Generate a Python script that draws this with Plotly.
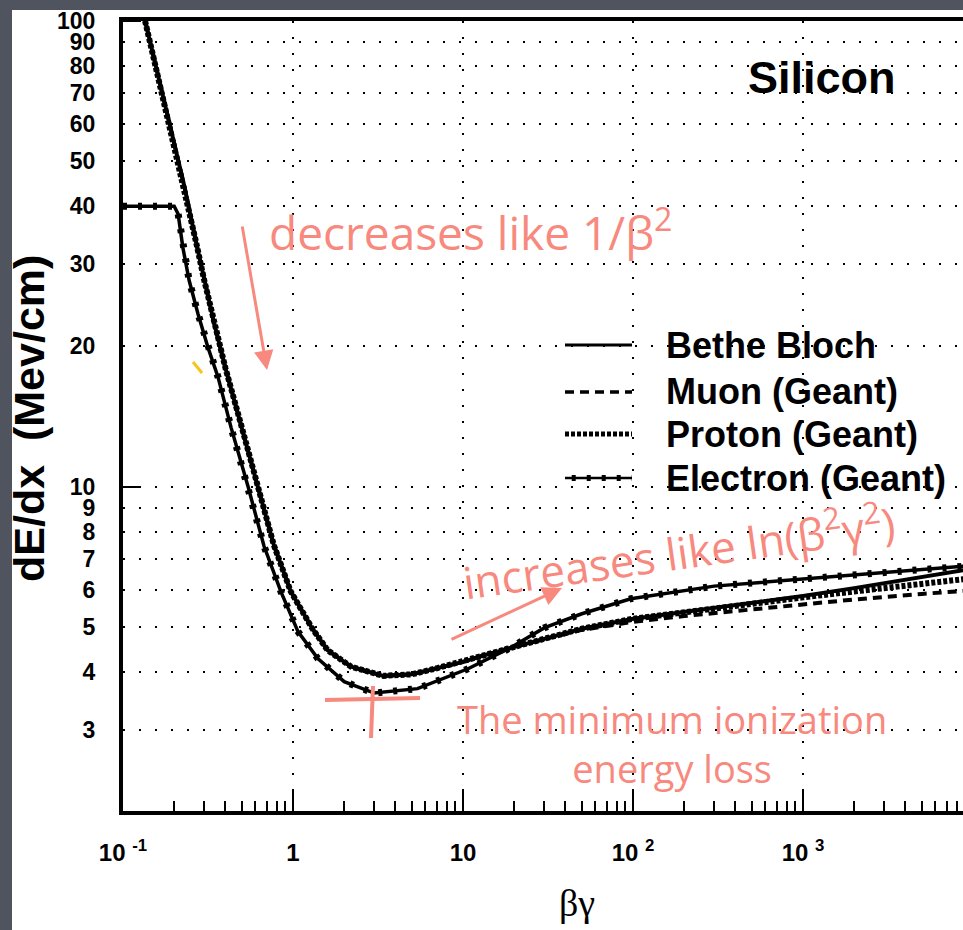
import plotly.graph_objects as go

# ---------------- data ----------------
bg_main = [0.130, 0.135, 0.15, 0.17, 0.20, 0.23, 0.27, 0.30, 0.34, 0.40, 0.50, 0.62,
           0.77, 0.97, 1.3, 1.6, 2.2, 3.4, 5.0, 7.0, 10, 13, 19, 30, 50, 100, 200,
           500, 1000, 2000, 5000, 9000]
bethe_bloch = [106, 100, 84, 69, 54, 44, 33.3, 27.8, 22.8, 18, 13.4, 10.0,
               7.5, 5.95, 4.95, 4.45, 4.1, 3.92, 3.95, 4.07, 4.2, 4.33, 4.5, 4.72, 4.95, 5.2, 5.38,
               5.62, 5.82, 6.05, 6.38, 6.62]
proton_geant = [106, 100, 84, 69, 54, 44, 33.3, 27.8, 22.8, 18, 13.4, 10.0,
                7.5, 5.95, 4.95, 4.45, 4.1, 3.92, 3.95, 4.07, 4.2, 4.33, 4.5, 4.72, 4.95, 5.2, 5.38,
                5.6, 5.78, 5.95, 6.18, 6.33]
muon_geant = [106, 100, 84, 69, 54, 44, 33.3, 27.8, 22.8, 18, 13.4, 10.0,
              7.5, 5.95, 4.95, 4.45, 4.1, 3.92, 3.95, 4.07, 4.2, 4.33, 4.5, 4.7, 4.92, 5.12, 5.27,
              5.45, 5.58, 5.72, 5.88, 5.97]

bg_electron = [0.10, 0.20, 0.211, 0.225, 0.245, 0.276, 0.316, 0.362, 0.432, 0.544, 0.675,
               0.85, 1.07, 1.4, 2.0, 3.0, 5.4, 10.7, 18.7, 30, 50, 97, 300, 713, 8850]
electron_geant = [40, 40, 38.5, 32.6, 27.7, 23.5, 19.9, 17.2, 13.4, 10.0, 7.45,
                  5.94, 4.88, 4.27, 3.81, 3.6, 3.68, 4.06, 4.49, 4.97, 5.33, 5.74, 6.11, 6.27, 6.74]

x_tickvals = [0.1, 1, 10, 100, 1000]
x_ticktext = ["10 <sup>-1</sup>", "1", "10", "10 <sup>2</sup>", "10 <sup>3</sup>"]
y_tickvals = [3, 4, 5, 6, 7, 8, 9, 10, 20, 30, 40, 50, 60, 70, 80, 90, 100]
y_ticktext = [str(v) for v in y_tickvals]

series_names = ["Bethe Bloch", "Muon (Geant)", "Proton (Geant)", "Electron (Geant)"]

# ---------------- figure ----------------
W, H = 963, 930
L, R, T, B = 123, 0, 21, 119
PW, PH = W - L - R, H - T - B


def px_x(p):
    return (p - L) / PW


def px_y(p):
    return (H - B - p) / PH


BLACK = "#000000"
PINK = "#F7897E"
FONT = "Liberation Sans"
HAND = "Open Sans"

fig = go.Figure()

fig.add_trace(go.Scatter(x=bg_electron, y=electron_geant, mode="lines",
                         line=dict(color=BLACK, width=3.5), name=series_names[3]))
fig.add_trace(go.Scatter(x=bg_electron, y=electron_geant, mode="lines",
                         line=dict(color=BLACK, width=7, dash="4px,11px"),
                         showlegend=False, hoverinfo="skip"))
fig.add_trace(go.Scatter(x=bg_main, y=muon_geant, mode="lines",
                         line=dict(color=BLACK, width=4, dash="9px,6px"), name=series_names[1]))
fig.add_trace(go.Scatter(x=bg_main, y=proton_geant, mode="lines",
                         line=dict(color=BLACK, width=6, dash="4px,2px"), name=series_names[2]))
fig.add_trace(go.Scatter(x=bg_main, y=bethe_bloch, mode="lines",
                         line=dict(color=BLACK, width=4), name=series_names[0]))

grid_dash = "2px,14px"
minor_x = [m * 10 ** d for d in range(-1, 4) for m in range(2, 10)]

fig.update_xaxes(
    type="log", range=[-1, -1 + PW / 170.0],
    tickmode="array", tickvals=x_tickvals, ticktext=x_ticktext,
    ticks="inside", ticklen=20, tickwidth=2, tickcolor=BLACK,
    tickfont=dict(family=FONT, size=24, color=BLACK, weight="bold"),
    ticklabelstandoff=17,
    showline=True, linewidth=4, linecolor=BLACK, mirror=True,
    showgrid=True, gridcolor=BLACK, gridwidth=2, griddash=grid_dash,
    minor=dict(tickmode="array", tickvals=minor_x, ticks="inside", ticklen=10,
               tickwidth=1.5, tickcolor=BLACK, showgrid=False),
    zeroline=False, automargin=False,
)
fig.update_yaxes(
    type="log", range=[0.303, 2.0],
    tickmode="array", tickvals=y_tickvals, ticktext=y_ticktext,
    ticks="", ticklabelstandoff=19,
    tickfont=dict(family=FONT, size=23, color=BLACK, weight="bold"),
    showline=True, linewidth=4, linecolor=BLACK, mirror=False,
    showgrid=True, gridcolor=BLACK, gridwidth=2, griddash=grid_dash,
    minor=dict(tickmode="array", tickvals=[10, 100], ticks="inside", ticklen=18,
               tickwidth=1.5, tickcolor=BLACK, showgrid=False),
    zeroline=False, automargin=False,
)

shapes = []
# white page area over the dark slide background
shapes.append(dict(type="rect", xref="paper", yref="paper", layer="below",
                   x0=px_x(12), x1=px_x(W + 5), y0=px_y(H + 5), y1=px_y(10),
                   fillcolor="white", line=dict(width=0)))

# legend samples
leg_x0, leg_x1 = px_x(565), px_x(632)
rows = [345, 392, 434, 478]
shapes.append(dict(type="line", xref="paper", yref="paper", x0=leg_x0, x1=leg_x1,
                   y0=px_y(rows[0]), y1=px_y(rows[0]), line=dict(color=BLACK, width=3)))
shapes.append(dict(type="line", xref="paper", yref="paper", x0=leg_x0, x1=leg_x1,
                   y0=px_y(rows[1]), y1=px_y(rows[1]), line=dict(color=BLACK, width=3.5, dash="9px,6px")))
shapes.append(dict(type="line", xref="paper", yref="paper", x0=leg_x0, x1=leg_x1,
                   y0=px_y(rows[2]), y1=px_y(rows[2]), line=dict(color=BLACK, width=5, dash="4px,2px")))
shapes.append(dict(type="line", xref="paper", yref="paper", x0=leg_x0, x1=leg_x1,
                   y0=px_y(rows[3]), y1=px_y(rows[3]), line=dict(color=BLACK, width=2.5)))
shapes.append(dict(type="line", xref="paper", yref="paper", x0=leg_x0 + 0.008, x1=leg_x1,
                   y0=px_y(rows[3]), y1=px_y(rows[3]), line=dict(color=BLACK, width=6, dash="4px,11px")))

# hand-drawn marks
shapes.append(dict(type="line", xref="paper", yref="paper", x0=px_x(325), x1=px_x(420),
                   y0=px_y(700), y1=px_y(698), line=dict(color=PINK, width=4)))
shapes.append(dict(type="line", xref="paper", yref="paper", x0=px_x(373), x1=px_x(371),
                   y0=px_y(686), y1=px_y(738), line=dict(color=PINK, width=4)))
shapes.append(dict(type="line", xref="paper", yref="paper", x0=px_x(193), x1=px_x(202),
                   y0=px_y(362), y1=px_y(373), line=dict(color="#F5C518", width=3)))

annotations = []
annotations.append(dict(text="Silicon", x=px_x(822), y=px_y(77), xref="paper", yref="paper",
                        showarrow=False, xanchor="center", yanchor="middle",
                        font=dict(family=FONT, size=45, color=BLACK, weight="bold")))
for name, r in zip(series_names, rows):
    annotations.append(dict(text=name, x=px_x(664), y=px_y(r), xref="paper", yref="paper",
                            showarrow=False, xanchor="left", yanchor="middle",
                            font=dict(family=FONT, size=36, color=BLACK, weight="bold")))
annotations.append(dict(text="dE/dx  (Mev/cm)", x=px_x(29), y=px_y(419), xref="paper", yref="paper",
                        showarrow=False, textangle=-90, xanchor="center", yanchor="middle",
                        font=dict(family=FONT, size=43, color=BLACK, weight="bold")))
annotations.append(dict(text="βγ", x=px_x(577), y=px_y(903), xref="paper", yref="paper",
                        showarrow=False, xanchor="center", yanchor="middle",
                        font=dict(family="Liberation Serif", size=38, color=BLACK)))

# handwritten notes
annotations.append(dict(text="decreases like 1/β<sup>2</sup>", x=px_x(470), y=px_y(230),
                        xref="paper", yref="paper", showarrow=False,
                        xanchor="center", yanchor="middle",
                        font=dict(family=HAND, size=46, color=PINK)))
annotations.append(dict(text="increases like ln(β<sup>2</sup>γ<sup>2</sup>)", x=px_x(678), y=px_y(550),
                        xref="paper", yref="paper", showarrow=False, textangle=-8,
                        xanchor="center", yanchor="middle",
                        font=dict(family=HAND, size=44, color=PINK)))
annotations.append(dict(text="The minimum ionization<br>energy loss", x=px_x(672), y=px_y(743),
                        xref="paper", yref="paper", showarrow=False, align="center",
                        xanchor="center", yanchor="middle",
                        font=dict(family=HAND, size=38, color=PINK)))
# arrows
annotations.append(dict(text="", x=px_x(267), y=px_y(370), xref="paper", yref="paper",
                        showarrow=True, ax=-25, ay=-145, arrowhead=2, arrowsize=1.3,
                        arrowwidth=3, arrowcolor=PINK))
annotations.append(dict(text="", x=px_x(562), y=px_y(588), xref="paper", yref="paper",
                        showarrow=True, ax=-112, ay=52, arrowhead=2, arrowsize=1.3,
                        arrowwidth=3, arrowcolor=PINK))

fig.update_layout(
    width=W, height=H,
    margin=dict(l=L, r=R, t=T, b=B, pad=0),
    paper_bgcolor="#50545e", plot_bgcolor="white",
    showlegend=False,
    shapes=shapes, annotations=annotations,
)

fig.write_html("out.html",
               config={"displayModeBar": False},
               post_script="document.body.style.margin='0';document.body.style.padding='0';"
                           "document.body.style.overflow='hidden';")
